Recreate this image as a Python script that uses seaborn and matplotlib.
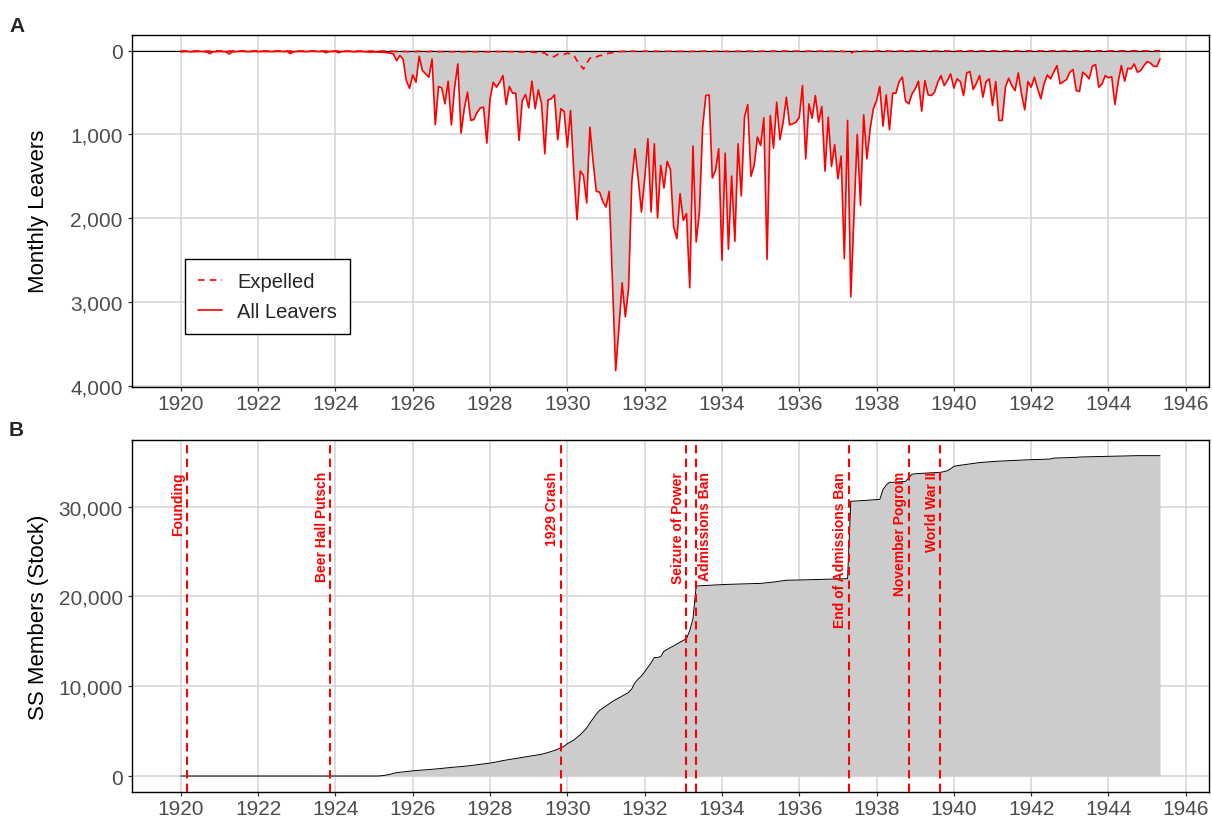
import numpy as np
import pandas as pd
import seaborn as sns
import matplotlib
matplotlib.use('Agg')
import matplotlib.pyplot as plt
from matplotlib.ticker import FuncFormatter
from matplotlib.lines import Line2D

# monthly series, Jan 1920 .. May 1945 (one row per year)
leavers = [
    15, 12, 10, 14, 12, 11, 10, 13, 16, 35, 14, 12,            # 1920
    10, 12, 14, 40, 15, 12, 10, 9, 11, 13, 12, 10,             # 1921
    12, 10, 11, 13, 12, 10, 9, 11, 12, 10, 35, 14,             # 1922
    12, 10, 11, 12, 10, 9, 11, 12, 10, 25, 12, 11,             # 1923
    10, 25, 12, 11, 10, 12, 14, 12, 11, 13, 15, 18,            # 1924
    15, 18, 20, 20, 25, 30, 40, 120, 60, 100, 357, 450,        # 1925
    290, 377, 67, 238, 278, 317, 100, 885, 428, 444, 635, 365,  # 1926
    885, 436, 159, 984, 694, 496, 833, 821, 734, 683, 675, 1103,  # 1927
    575, 377, 436, 377, 298, 643, 428, 508, 508, 1071, 595, 524,  # 1928
    683, 365, 694, 468, 635, 1230, 587, 575, 528, 1063, 694, 726,  # 1929
    1151, 714, 1448, 2016, 1437, 1488, 1817, 913, 1329, 1679, 1687, 1798,  # 1930
    1865, 1679, 2750, 3817, 3313, 2770, 3175, 2837, 1567, 1171, 1528, 1925,  # 1931
    1528, 1052, 1925, 1111, 1996, 1369, 1639, 1321, 1421, 2103, 2242, 1706,  # 1932
    2024, 1944, 2829, 1139, 2282, 1925, 913, 536, 528, 1520, 1429, 1171,  # 1933
    2500, 1222, 2369, 1496, 2274, 1111, 1734, 794, 643, 1500, 1369, 1032,  # 1934
    1131, 802, 2488, 774, 1163, 615, 1063, 853, 556, 885, 873, 853,  # 1935
    794, 417, 1290, 635, 806, 536, 853, 667, 1437, 794, 1381, 1123,  # 1936
    1528, 1258, 2480, 833, 2937, 1950, 1000, 1845, 766, 1290, 933, 694,  # 1937
    595, 428, 900, 528, 944, 508, 508, 369, 317, 603, 635, 516,  # 1938
    456, 365, 722, 357, 528, 536, 496, 377, 298, 417, 357, 278,  # 1939
    448, 337, 369, 536, 266, 250, 464, 389, 298, 555, 369, 337,  # 1940
    655, 369, 833, 833, 436, 329, 417, 476, 266, 516, 706, 369,  # 1941
    436, 317, 456, 575, 397, 290, 337, 258, 179, 397, 369, 345,  # 1942
    258, 226, 476, 488, 258, 290, 337, 187, 167, 436, 397, 298,  # 1943
    325, 310, 643, 377, 179, 365, 210, 218, 159, 258, 238, 179,  # 1944
    131, 147, 187, 190, 99,                                     # 1945
]

expelled = [
    4, 5, 4, 6, 5, 4, 5, 5, 6, 8, 5, 4,          # 1920
    5, 4, 6, 8, 5, 4, 5, 4, 5, 6, 5, 4,          # 1921
    5, 4, 5, 6, 5, 4, 4, 5, 5, 4, 8, 5,          # 1922
    5, 4, 5, 5, 4, 4, 5, 5, 4, 6, 5, 5,          # 1923
    4, 6, 5, 5, 4, 5, 6, 5, 5, 6, 6, 7,          # 1924
    5, 5, 6, 6, 7, 8, 8, 10, 8, 10, 12, 12,      # 1925
    10, 12, 8, 10, 12, 12, 8, 14, 12, 12, 13, 12,  # 1926
    14, 12, 10, 15, 13, 12, 14, 14, 13, 13, 12, 15,  # 1927
    13, 12, 12, 12, 11, 14, 13, 14, 14, 18, 15, 16,  # 1928
    15, 18, 20, 22, 25, 30, 60, 75, 70, 45, 50, 45,  # 1929
    30, 40, 55, 120, 170, 220, 150, 90, 70, 75, 60, 55,  # 1930
    40, 30, 25, 15, 12, 10, 10, 10, 8, 8, 8, 8,  # 1931
    8, 7, 9, 8, 10, 8, 9, 8, 8, 10, 11, 9,       # 1932
    10, 10, 12, 8, 11, 10, 7, 6, 6, 9, 9, 8,     # 1933
    12, 8, 11, 9, 11, 8, 10, 7, 6, 9, 9, 8,      # 1934
    8, 7, 11, 7, 8, 6, 8, 7, 6, 7, 7, 7,         # 1935
    7, 6, 9, 6, 7, 6, 7, 6, 9, 7, 9, 8,          # 1936
    9, 8, 12, 8, 30, 12, 8, 10, 7, 8, 7, 6,      # 1937
    6, 5, 7, 5, 7, 5, 5, 5, 4, 6, 6, 5,          # 1938
    5, 5, 6, 5, 5, 5, 5, 5, 4, 5, 5, 4,          # 1939
    5, 4, 5, 5, 4, 4, 5, 5, 4, 5, 5, 4,          # 1940
    5, 4, 6, 6, 5, 4, 5, 5, 4, 5, 6, 4,          # 1941
    5, 4, 5, 5, 5, 4, 4, 4, 3, 5, 4, 4,          # 1942
    4, 4, 5, 5, 4, 4, 4, 3, 3, 5, 4, 4,          # 1943
    4, 4, 5, 4, 3, 4, 3, 3, 3, 4, 4, 3,          # 1944
    3, 3, 3, 3, 2,                               # 1945
]

stock = [
    0, 0, 0, 0, 0, 0, 0, 0, 0, 0, 0, 0,          # 1920
    0, 0, 0, 0, 0, 0, 0, 0, 0, 0, 0, 0,          # 1921
    0, 0, 0, 0, 0, 0, 0, 0, 0, 0, 0, 0,          # 1922
    0, 0, 0, 0, 0, 0, 0, 0, 0, 0, 0, 0,          # 1923
    0, 0, 0, 0, 0, 0, 0, 0, 0, 0, 0, 0,          # 1924
    0, 0, 20, 60, 120, 200, 300, 380, 420, 460, 510, 550,  # 1925
    590, 615, 640, 665, 690, 720, 750, 780, 810, 850, 890, 930,  # 1926
    960, 990, 1020, 1050, 1080, 1120, 1160, 1210, 1260, 1310, 1360, 1400,  # 1927
    1440, 1500, 1570, 1650, 1720, 1780, 1840, 1900, 1960, 2020, 2080, 2140,  # 1928
    2200, 2250, 2300, 2360, 2430, 2520, 2620, 2730, 2850, 2980, 3150, 3300,  # 1929
    3600, 3800, 4000, 4300, 4600, 4950, 5350, 5900, 6400, 6900, 7300, 7550,  # 1930
    7800, 8050, 8300, 8500, 8700, 8900, 9100, 9300, 9700, 10400, 10800, 11150,  # 1931
    11600, 12100, 12600, 13200, 13200, 13300, 13900, 14100, 14300, 14500, 14700, 14900,  # 1932
    15100, 15300, 16200, 17500, 21150, 21180, 21200, 21220, 21240, 21260, 21280, 21300,  # 1933
    21320, 21330, 21340, 21350, 21360, 21370, 21380, 21390, 21400, 21400, 21410, 21420,  # 1934
    21450, 21480, 21520, 21560, 21600, 21640, 21700, 21750, 21800, 21800, 21810, 21820,  # 1935
    21830, 21840, 21850, 21860, 21870, 21880, 21890, 21900, 21910, 21920, 21930, 21940,  # 1936
    21950, 21955, 21960, 21970, 30590, 30610, 30630, 30650, 30680, 30700, 30730, 30760,  # 1937
    30780, 30800, 31900, 32400, 32700, 32700, 32720, 32750, 32780, 32800, 33200, 33600,  # 1938
    33650, 33680, 33700, 33720, 33740, 33760, 33780, 33800, 33820, 33900, 34000, 34200,  # 1939
    34480, 34550, 34600, 34650, 34700, 34750, 34800, 34850, 34900, 34930, 34960, 34990,  # 1940
    35020, 35040, 35060, 35080, 35100, 35110, 35120, 35140, 35160, 35180, 35190, 35210,  # 1941
    35220, 35230, 35240, 35250, 35270, 35280, 35300, 35400, 35410, 35420, 35430, 35440,  # 1942
    35450, 35460, 35480, 35520, 35530, 35540, 35550, 35560, 35570, 35575, 35580, 35585,  # 1943
    35590, 35600, 35610, 35620, 35630, 35640, 35650, 35660, 35665, 35670, 35670, 35670,  # 1944
    35670, 35670, 35670, 35670, 35670,           # 1945
]

event_names = ['Founding', 'Beer Hall Putsch', '1929 Crash', 'Seizure of Power',
               'Admissions Ban', 'End of Admissions Ban', 'November Pogrom', 'World War II']
event_years = [1920.15, 1923.86, 1929.83, 1933.07, 1933.32, 1937.28, 1938.83, 1939.65]

df = pd.DataFrame({'leavers': leavers, 'expelled': expelled, 'stock': stock})
df['year'] = 1920 + np.arange(len(df)) / 12

sns.set_theme(style='whitegrid')
plt.rcParams['font.family'] = ['Liberation Sans', 'DejaVu Sans']

fig = plt.figure(figsize=(12.12, 8.2), dpi=100)
ax1 = fig.add_axes([0.1087, 0.5272, 0.8888, 0.4293])
ax2 = fig.add_axes([0.1087, 0.0329, 0.8888, 0.4297])

grid_col = '#D4D4D4'
fill_col = '#CCCCCC'
fmt = FuncFormatter(lambda v, p: f'{int(v):,}')


def style_axes(ax):
    for s in ax.spines.values():
        s.set_color('black')
        s.set_linewidth(1.0)
    ax.grid(True, color=grid_col, lw=1.1)
    ax.set_axisbelow(True)
    ax.set_xlim(1918.73, 1946.6)
    ax.set_xticks(range(1920, 1947, 2))
    ax.tick_params(axis='both', labelsize=15, labelcolor='#4D4D4D', colors='#333333',
                   length=3, width=0.9, direction='out', bottom=True, left=True)
    ax.tick_params(axis='x', pad=2)
    ax.tick_params(axis='y', pad=3.5)
    ax.tick_params(axis='both', labelcolor='#4D4D4D')
    ax.yaxis.set_major_formatter(fmt)
    ax.set_xlabel('')


# panel A
ax1.fill_between(df['year'], 0, df['leavers'], color=fill_col, lw=0, zorder=1)
ax1.axhline(0, color='black', lw=0.8, zorder=2)
sns.lineplot(data=df, x='year', y='leavers', ax=ax1, color='red', lw=1.2, zorder=3)
sns.lineplot(data=df, x='year', y='expelled', ax=ax1, color='red', lw=1.2, zorder=4)
ax1.lines[-1].set_dashes((4, 3))
ax1.set_ylim(4008, -190)
ax1.set_yticks([0, 1000, 2000, 3000, 4000])
style_axes(ax1)
ax1.set_ylabel('Monthly Leavers', fontsize=16, color='black')
ax1.yaxis.set_label_coords(-0.077, 0.5)

handles = [Line2D([], [], color='red', lw=1.2, dashes=(4, 3)),
           Line2D([], [], color='red', lw=1.2)]
leg = ax1.legend(handles, ['Expelled', 'All Leavers'], loc='lower left',
                 bbox_to_anchor=(0.0495, 0.15), frameon=True, fancybox=False,
                 edgecolor='black', framealpha=1, fontsize=14.5, handlelength=1.2,
                 handletextpad=0.75, borderpad=0.65, labelspacing=0.55, borderaxespad=0)
leg.get_frame().set_linewidth(1.0)

# panel B
ax2.fill_between(df['year'], 0, df['stock'], color=fill_col, lw=0, zorder=1)
sns.lineplot(data=df, x='year', y='stock', ax=ax2, color='black', lw=0.7, zorder=3)
for name, yr in zip(event_names, event_years):
    ax2.axvline(yr, color='red', lw=1.5, dashes=(4, 2.5), zorder=4)
    if name == 'Admissions Ban':
        ax2.annotate(name, (yr, 33950), xytext=(2, 0), textcoords='offset points',
                     rotation=90, ha='left', va='top', color='red', fontsize=10,
                     fontweight='bold', zorder=5)
    else:
        ax2.annotate(name, (yr, 33950), xytext=(-1, 0), textcoords='offset points',
                     rotation=90, ha='right', va='top', color='red', fontsize=10,
                     fontweight='bold', zorder=5)
ax2.set_ylim(-1780, 37450)
ax2.set_yticks([0, 10000, 20000, 30000])
style_axes(ax2)
ax2.set_ylabel('SS Members (Stock)', fontsize=16, color='black')
ax2.yaxis.set_label_coords(-0.077, 0.5)

fig.text(0.0075, 1 - 17 / 820, 'A', fontsize=15, fontweight='bold', va='top', ha='left')
fig.text(0.0075, 1 - 421 / 820, 'B', fontsize=15, fontweight='bold', va='top', ha='left')

fig.savefig('out.png', dpi=100)
